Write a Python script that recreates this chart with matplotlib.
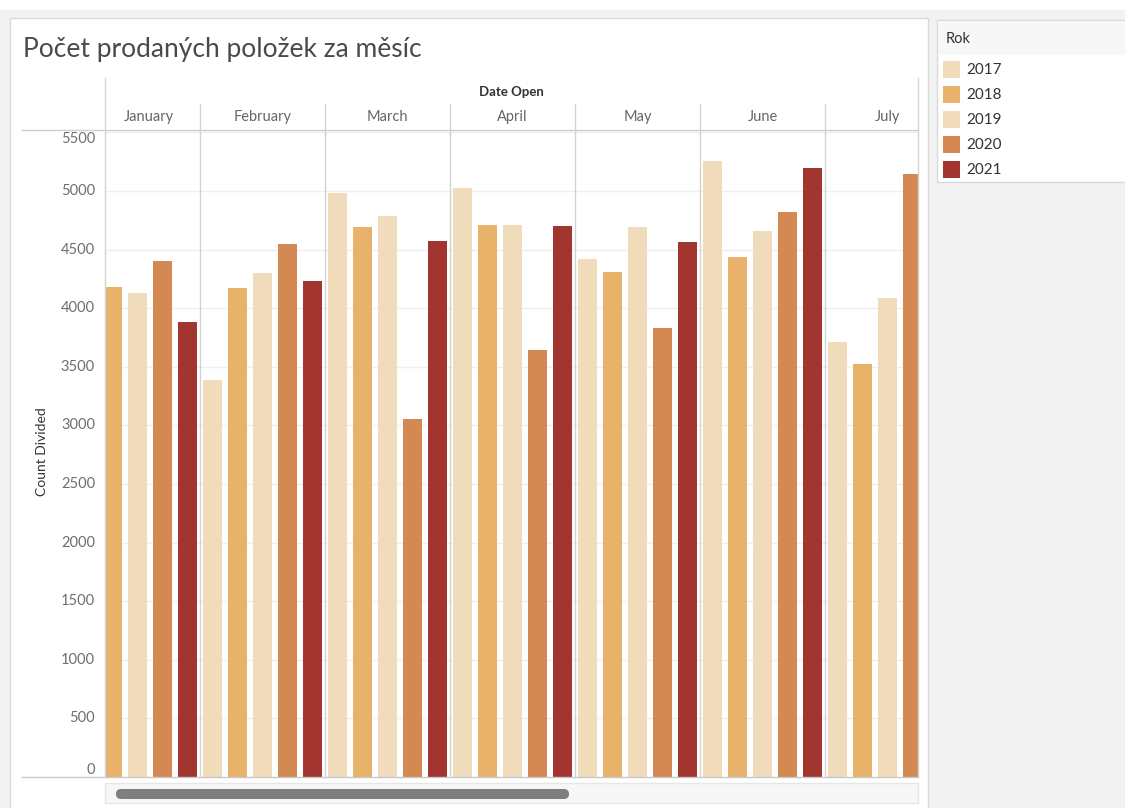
import numpy as np
import matplotlib.pyplot as plt
import matplotlib.transforms as mtransforms
from matplotlib.patches import Rectangle, FancyBboxPatch

plt.rcParams['font.family'] = ['Lato', 'DejaVu Sans']

months = ["January", "February", "March", "April", "May", "June", "July"]
years = ["2017", "2018", "2019", "2020", "2021"]
colors = ["#F0DBBA", "#E8B26A", "#F0DBBA", "#D48952", "#A23530"]

# values per year (nan = scrolled out of view)
v2017 = [np.nan, 3387, 4980, 5023, 4417, 5256, 3714]
v2018 = [4183, 4170, 4690, 4713, 4309, 4437, 3521]
v2019 = [4127, 4298, 4787, 4713, 4690, 4659, 4085]
v2020 = [4405, 4545, 3055, 3641, 3828, 4821, 5143]
v2021 = [3885, 4235, 4576, 4701, 4565, 5194, np.nan]
series = [v2017, v2018, v2019, v2020, v2021]
yticks = list(range(0, 5501, 500))

W, H = 1125, 808
fig = plt.figure(figsize=(W / 100, H / 100), dpi=100)
fig.patch.set_facecolor("white")

# background / frame layer in pixel coords
bg = fig.add_axes([0, 0, 1, 1], zorder=0)
bg.set_xlim(0, W)
bg.set_ylim(H, 0)
bg.axis("off")
bg.add_patch(Rectangle((0, 10), W, H, color="#f2f2f2"))
bg.add_patch(Rectangle((10, 18), 918, 800, facecolor="white", edgecolor="#d9d9d9", lw=1))
bg.add_patch(Rectangle((937, 20), 200, 162, facecolor="white", edgecolor="#d9d9d9", lw=1))
bg.add_patch(Rectangle((938, 21), 199, 34, facecolor="#f7f7f7", edgecolor="none"))

bg.text(23, 50, "Počet prodaných položek za měsíc", fontsize=19, color="#4a4a4a",
        va="center", ha="left")
bg.text(511, 92, "Date Open", fontsize=9.5, fontweight="bold", color="#333333",
        ha="center", va="center")
bg.text(42, 452, "Count Divided", fontsize=10, color="#333333", rotation=90,
        ha="center", va="center")

# legend
bg.text(946, 39, "Rok", fontsize=10.5, color="#333333", va="center")
for i, (yr, c) in enumerate(zip(years, colors)):
    bg.add_patch(Rectangle((943, 61 + 25 * i), 17, 17, facecolor=c, edgecolor="none"))
    bg.text(966, 70 + 25 * i, yr, fontsize=11, color="#333333", va="center")

# scrollbar
bg.add_patch(Rectangle((105, 783), 813, 20, facecolor="#f7f7f7", edgecolor="#e6e6e6", lw=1))
bg.add_patch(FancyBboxPatch((116, 789), 453, 10, boxstyle="round,pad=0,rounding_size=5",
                            facecolor="#7f7f7f", edgecolor="none"))

# main chart
x0, x1, ytop, ybot = 105, 918, 130, 777
ax = fig.add_axes([x0 / W, 1 - ybot / H, (x1 - x0) / W, (ybot - ytop) / H], zorder=1)
ax.patch.set_alpha(0)
nslot = len(years)
xmin = 0.7
xmax = xmin + (x1 - x0) / 25
ax.set_xlim(xmin, xmax)
ax.set_ylim(0, 5520)

for j, (vals, c) in enumerate(zip(series, colors)):
    xs = np.arange(len(months)) * nslot + j
    ax.bar(xs, vals, width=0.74, color=c, edgecolor="none", zorder=2)

for s in ax.spines.values():
    s.set_visible(False)
ax.set_xticks([])
ax.set_yticks([])

for v in yticks[1:]:
    ax.axhline(v, color="#efefef", lw=1, zorder=0)

trans_y = mtransforms.blended_transform_factory(ax.transAxes, ax.transData)
trans_x = mtransforms.blended_transform_factory(ax.transData, ax.transAxes)
for i, v in enumerate(yticks):
    va = "center"
    if i == 0:
        va = "bottom"
    elif i == len(yticks) - 1:
        va = "top"
    ax.text(-10 / (x1 - x0), v, str(v), transform=trans_y, ha="right", va=va,
            fontsize=10.5, color="#6e6e6e")

left_ext = -(x0 - 22) / (x1 - x0)
ax.plot([left_ext, 1], [0, 0], transform=trans_y, color="#c8c8c8", lw=1, clip_on=False)
ax.plot([left_ext, 1], [1, 1], transform=ax.transAxes, color="#cfcfcf", lw=1, clip_on=False)

hdr = 26 / (ybot - ytop)
for k in range(1, len(months)):
    b = k * nslot - 0.5
    ax.plot([b, b], [0, 1 + hdr], transform=trans_x, color="#d2d2d2", lw=1, clip_on=False)
for edge in [0, 1]:
    ax.plot([edge, edge], [0, 1 + 52 / (ybot - ytop)], transform=ax.transAxes,
            color="#d2d2d2", lw=1, clip_on=False)

centers = np.arange(len(months)) * nslot + 2.0
centers[0] = (xmin + nslot - 0.5) / 2 - 0.15
for m, cx in zip(months, centers):
    ax.text(cx, 1 + 13 / (ybot - ytop), m, transform=trans_x, ha="center", va="center",
            fontsize=10.5, color="#666666")

fig.savefig("out.png", dpi=100)
